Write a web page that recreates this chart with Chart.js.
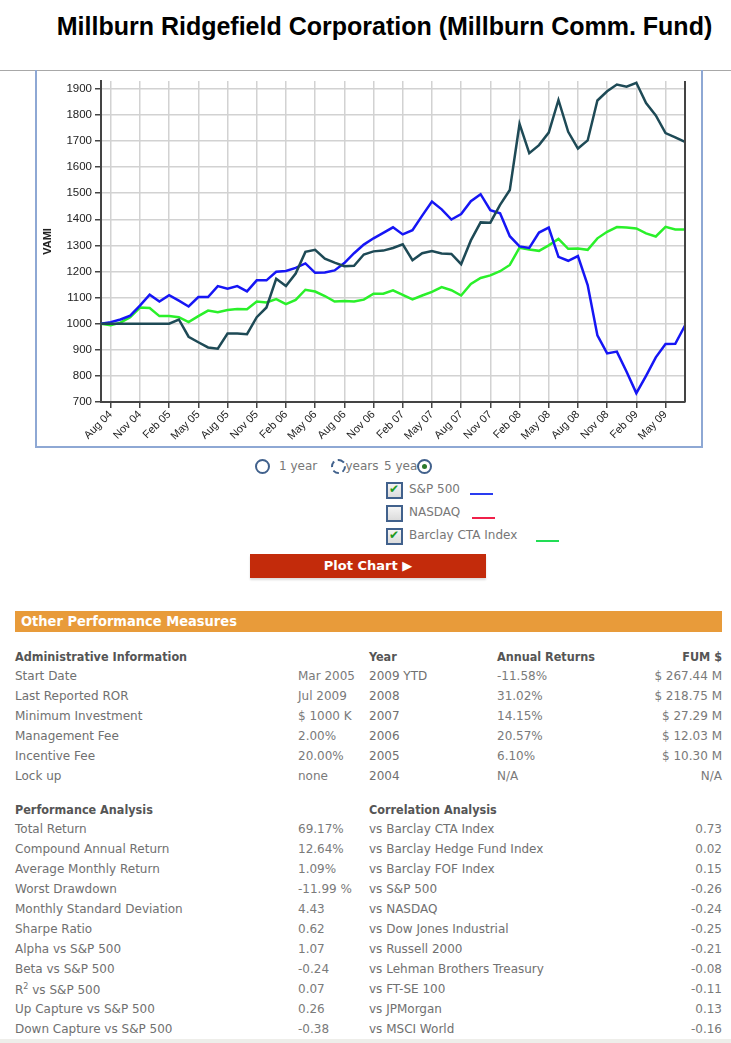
<!DOCTYPE html>
<html>
<head>
<meta charset="utf-8">
<script src="https://cdn.jsdelivr.net/npm/chart.js@4.4.0/dist/chart.umd.min.js"></script>
<style>
  body { margin: 0; background: #fff; font-family: "DejaVu Sans", Verdana, sans-serif; }
  .abs { position: absolute; white-space: nowrap; }
  #title { left: 0; width: 769px; top: 12px; text-align: center; font: bold 25px "Liberation Sans", Arial, sans-serif; color: #000; }
  #topline { left: 0; top: 70px; width: 731px; height: 1px; background: #a8a8a8; }
  #frame { left: 35px; top: 70px; width: 664px; height: 376px; border-left: 2px solid #8ea8d4; border-right: 2px solid #8ea8d4; border-bottom: 2px solid #8ea8d4; }
  #chartBox { left: 37px; top: 71px; width: 662px; height: 375px; }
  .txt { font-size: 12px; color: #777; }
  .radio { width: 11px; height: 11px; border: 2px solid #41618c; border-radius: 50%; background: #fff; }
  .radio.dash { border-style: dashed; }
  .radio.on::after { content: ""; position: absolute; left: 3px; top: 3px; width: 5px; height: 5px; border-radius: 50%; background: #2c7a2c; }
  .check { width: 13px; height: 13px; border: 2px solid #41618c; background: linear-gradient(#f4f4f4, #dcdcdc); }
  .check.on::after { content: "\2714"; position: absolute; left: 1px; top: -2px; font-size: 12px; color: #1f9a1f; }
  .swatch { height: 2px; width: 23px; }
  #plotBtn { left: 250px; top: 554px; width: 236px; height: 24px; background: #c32b0b; color: #fff; font: bold 13px "DejaVu Sans", sans-serif; text-align: center; line-height: 24px; box-shadow: 0 2px 2px #ddd; }
  #bar { left: 15px; top: 611px; width: 707px; height: 21px; background: #e89b3a; color: #fff; font: bold 14.5px "DejaVu Sans Condensed", "DejaVu Sans", sans-serif; line-height: 21px; text-indent: 6px; }
  .hd { font: bold 12.5px "DejaVu Sans Condensed", "DejaVu Sans", sans-serif; color: #555; }
  .lb { font-size: 12px; color: #707070; }
  .vl { font-size: 12px; color: #7a7a7a; }
  .r { text-align: right; }
  #foot { left: 0; top: 1039px; width: 731px; height: 4px; background: #eeeeea; }
</style>
</head>
<body>
<div id="title" class="abs">Millburn Ridgefield Corporation (Millburn Comm. Fund)</div>
<div id="topline" class="abs"></div>
<div id="frame" class="abs"></div>
<div id="chartBox" class="abs"><canvas id="myChart"></canvas></div>

<div class="abs radio" style="left:255px;top:459px;"></div>
<div class="abs txt" style="left:279px;top:459px;">1 year</div>
<div class="abs txt" style="left:334px;top:459px;">3 years</div>
<div class="abs radio dash" style="left:331px;top:459px;"></div>
<div class="abs txt" style="left:384px;top:459px;">5 years</div>
<div class="abs radio on" style="left:417px;top:459px;"></div>

<div class="abs check on" style="left:386px;top:482px;"></div>
<div class="abs txt" style="left:409px;top:482px;">S&amp;P 500</div>
<div class="abs swatch" style="left:470px;top:493px;background:#2a3cf0;"></div>
<div class="abs check" style="left:386px;top:505px;"></div>
<div class="abs txt" style="left:409px;top:505px;">NASDAQ</div>
<div class="abs swatch" style="left:472px;top:517px;background:#f0204a;"></div>
<div class="abs check on" style="left:386px;top:528px;"></div>
<div class="abs txt" style="left:409px;top:528px;">Barclay CTA Index</div>
<div class="abs swatch" style="left:536px;top:540px;background:#22dd55;"></div>

<div id="plotBtn" class="abs">Plot Chart &#9654;</div>

<div id="bar" class="abs">Other Performance Measures</div>
<div id="tables"></div>
<div id="foot" class="abs"></div>

<script>
// monthly VAMI, Jul 04 .. Jul 09
const months = ['Jul 04','Aug 04','Sep 04','Oct 04','Nov 04','Dec 04',
  'Jan 05','Feb 05','Mar 05','Apr 05','May 05','Jun 05','Jul 05','Aug 05','Sep 05','Oct 05','Nov 05','Dec 05',
  'Jan 06','Feb 06','Mar 06','Apr 06','May 06','Jun 06','Jul 06','Aug 06','Sep 06','Oct 06','Nov 06','Dec 06',
  'Jan 07','Feb 07','Mar 07','Apr 07','May 07','Jun 07','Jul 07','Aug 07','Sep 07','Oct 07','Nov 07','Dec 07',
  'Jan 08','Feb 08','Mar 08','Apr 08','May 08','Jun 08','Jul 08','Aug 08','Sep 08','Oct 08','Nov 08','Dec 08',
  'Jan 09','Feb 09','Mar 09','Apr 09','May 09','Jun 09','Jul 09'];
const shownTicks = ['Aug 04','Nov 04','Feb 05','May 05','Aug 05','Nov 05','Feb 06','May 06','Aug 06',
  'Nov 06','Feb 07','May 07','Aug 07','Nov 07','Feb 08','May 08','Aug 08','Nov 08','Feb 09','May 09'];
const yTicks = [700,800,900,1000,1100,1200,1300,1400,1500,1600,1700,1800,1900];

const fund = [1000,1000,1000,1000,1000,1000,1000,1000,1016,950,929,909,904,962,962,960,1025,1062,
  1172,1144,1192,1275,1283,1249,1234,1220,1222,1265,1277,1280,1290,1304,1243,1270,1278,1269,1267,
  1228,1319,1388,1387,1455,1512,1765,1653,1684,1732,1857,1735,1671,1702,1855,1890,1916,1908,1923,
  1845,1798,1730,1714,1696];
const sp500 = [1000,1006,1016,1031,1069,1111,1085,1109,1088,1066,1102,1102,1144,1134,1144,1124,1166,
  1166,1199,1202,1214,1231,1195,1196,1204,1232,1270,1303,1327,1348,1369,1342,1358,1414,1468,1438,
  1399,1420,1469,1496,1435,1423,1335,1296,1290,1349,1368,1256,1241,1259,1148,955,886,893,816,734,
  800,871,922,923,993];
const barclayCta = [1000,994,1004,1025,1062,1060,1029,1029,1025,1006,1029,1050,1044,1052,1056,1055,
  1085,1081,1094,1075,1091,1130,1123,1106,1085,1087,1085,1092,1115,1115,1128,1110,1093,1108,1122,
  1140,1128,1108,1152,1175,1185,1201,1225,1291,1284,1279,1300,1325,1287,1288,1283,1327,1352,1370,
  1368,1365,1346,1334,1371,1361,1361];

// tables under the chart
const adminRows = [['Start Date','Mar 2005'],['Last Reported ROR','Jul 2009'],['Minimum Investment','$ 1000 K'],
  ['Management Fee','2.00%'],['Incentive Fee','20.00%'],['Lock up','none']];
const yearRows = [['2009 YTD','-11.58%','$ 267.44 M'],['2008','31.02%','$ 218.75 M'],['2007','14.15%','$ 27.29 M'],
  ['2006','20.57%','$ 12.03 M'],['2005','6.10%','$ 10.30 M'],['2004','N/A','N/A']];
const perfRows = [['Total Return','69.17%'],['Compound Annual Return','12.64%'],['Average Monthly Return','1.09%'],
  ['Worst Drawdown','-11.99 %'],['Monthly Standard Deviation','4.43'],['Sharpe Ratio','0.62'],
  ['Alpha vs S&amp;P 500','1.07'],['Beta vs S&amp;P 500','-0.24'],['R<sup style="font-size:8px">2</sup> vs S&amp;P 500','0.07'],
  ['Up Capture vs S&amp;P 500','0.26'],['Down Capture vs S&amp;P 500','-0.38']];
const corrRows = [['vs Barclay CTA Index','0.73'],['vs Barclay Hedge Fund Index','0.02'],['vs Barclay FOF Index','0.15'],
  ['vs S&amp;P 500','-0.26'],['vs NASDAQ','-0.24'],['vs Dow Jones Industrial','-0.25'],['vs Russell 2000','-0.21'],
  ['vs Lehman Brothers Treasury','-0.08'],['vs FT-SE 100','-0.11'],['vs JPMorgan','0.13'],['vs MSCI World','-0.16']];

let html = '';
function put(cls, x, y, text, right) {
  if (right) html += '<div class="abs r ' + cls + '" style="right:' + (731 - x) + 'px;top:' + y + 'px;">' + text + '</div>';
  else html += '<div class="abs ' + cls + '" style="left:' + x + 'px;top:' + y + 'px;">' + text + '</div>';
}
put('hd', 15, 649, 'Administrative Information');
put('hd', 369, 649, 'Year');
put('hd', 497, 649, 'Annual Returns');
put('hd', 722, 649, 'FUM $', true);
adminRows.forEach((r, i) => { put('lb', 15, 669 + i * 20, r[0]); put('vl', 298, 669 + i * 20, r[1]); });
yearRows.forEach((r, i) => { put('lb', 369, 669 + i * 20, r[0]); put('vl', 497, 669 + i * 20, r[1]); put('vl', 722, 669 + i * 20, r[2], true); });
put('hd', 15, 802, 'Performance Analysis');
put('hd', 369, 802, 'Correlation Analysis');
perfRows.forEach((r, i) => { put('lb', 15, 822 + i * 20, r[0]); put('vl', 298, 822 + i * 20, r[1]); });
corrRows.forEach((r, i) => { put('lb', 369, 822 + i * 20, r[0]); put('vl', 722, 822 + i * 20, r[1], true); });
document.getElementById('tables').innerHTML = html;

// dark line on the right of the plot area
const rightEdge = {
  id: 'rightEdge',
  afterDraw(c) {
    const a = c.chartArea, ctx = c.ctx;
    ctx.save();
    ctx.strokeStyle = '#444';
    ctx.lineWidth = 2;
    ctx.beginPath();
    ctx.moveTo(a.right, a.top);
    ctx.lineTo(a.right, a.bottom);
    ctx.stroke();
    ctx.restore();
  }
};

const isShown = i => shownTicks.includes(months[i]);

const ctx = document.getElementById('myChart').getContext('2d');
const myChart = new Chart(ctx, {
  type: 'line',
  data: {
    labels: months,
    datasets: [
      { label: 'S&P 500', data: sp500, borderColor: '#1616f5', borderWidth: 2.5, pointRadius: 0, fill: false, tension: 0, order: 2 },
      { label: 'Barclay CTA Index', data: barclayCta, borderColor: '#2af02a', borderWidth: 2.5, pointRadius: 0, fill: false, tension: 0, order: 3 },
      { label: 'Millburn Comm. Fund', data: fund, borderColor: '#1e4a56', borderWidth: 2.5, pointRadius: 0, fill: false, tension: 0, order: 1 }
    ]
  },
  options: {
    responsive: true,
    maintainAspectRatio: false,
    animation: false,
    layout: { padding: { left: 0, right: 14, top: 0, bottom: 0 } },
    plugins: { legend: { display: false }, tooltip: { enabled: false } },
    scales: {
      x: {
        type: 'category',
        offset: false,
        afterFit: s => { s.height = 44; },
        border: { color: '#444', width: 2 },
        grid: {
          color: c => isShown(c.index) ? '#d2d2d2' : 'rgba(0,0,0,0)',
          tickColor: c => isShown(c.index) ? '#444' : 'rgba(0,0,0,0)',
          lineWidth: 1.5,
          tickLength: 6
        },
        ticks: {
          autoSkip: false,
          minRotation: 45,
          maxRotation: 45,
          padding: 0,
          color: '#222',
          font: { family: 'Liberation Sans', size: 11 },
          callback: (v, i) => isShown(i) ? months[i] : ''
        }
      },
      y: {
        min: 700,
        max: 1930,
        afterFit: s => { s.width = 64; },
        afterBuildTicks: s => { s.ticks = yTicks.map(v => ({ value: v })); },
        border: { color: '#444', width: 2 },
        grid: { color: '#d2d2d2', tickColor: '#444', lineWidth: 1.5, tickLength: 6 },
        ticks: { padding: 3, color: '#222', font: { family: 'Liberation Sans', size: 11.5 }, callback: v => String(v) },
        title: { display: true, text: 'VAMI', color: '#222', font: { family: 'Liberation Sans', size: 11, weight: 'bold' }, padding: 4 }
      }
    }
  },
  plugins: [rightEdge]
});
</script>
</body>
</html>
